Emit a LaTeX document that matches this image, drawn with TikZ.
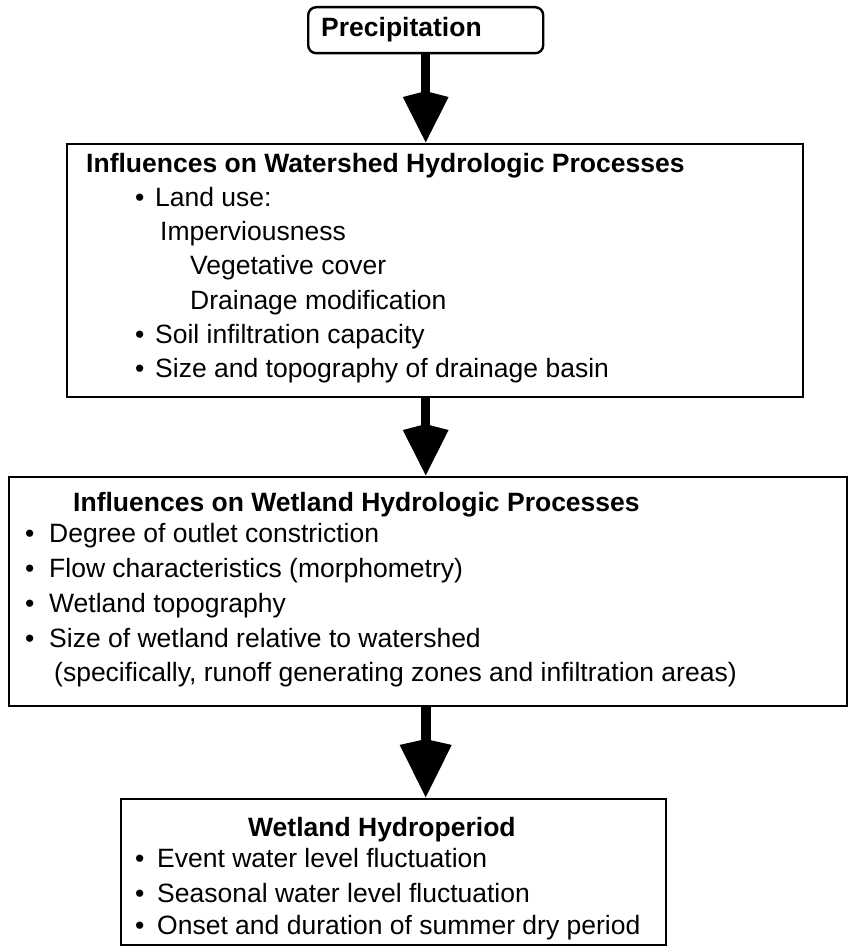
\documentclass[tikz,border=0pt]{standalone}
\usepackage{fontspec}
\setmainfont{Liberation Sans}
\usetikzlibrary{arrows.meta}
\begin{document}
\begin{tikzpicture}[x=1pt,y=-1pt,
  box/.style={draw, line width=2.4pt, inner sep=0pt, anchor=north west},
  txt/.style={anchor=base west, inner sep=0pt, font=\fontsize{26.5}{30}\selectfont},
  ttl/.style={anchor=base west, inner sep=0pt, font=\fontsize{26.5}{30}\selectfont\bfseries},
  flow/.style={line width=9pt, -{Stealth[length=45pt,width=42pt,inset=-7pt]}},
  bigflow/.style={line width=10pt, -{Stealth[length=52pt,width=48pt,inset=-7pt]}}]
\useasboundingbox (0,0) rectangle (847,947);
% boxes
\node[box, minimum width=235pt, minimum height=46pt, rounded corners=8pt] (pre) at (307,6) {};
\node[box, minimum width=736pt, minimum height=253pt] (b2) at (66,143) {};
\node[box, minimum width=838pt, minimum height=229pt] (b3) at (8,476) {};
\node[box, minimum width=545pt, minimum height=146pt] (b4) at (120,798) {};
% connectors
\draw[flow] (pre.south) -- (pre.south |- b2.north);
\draw[flow] (pre.south |- b2.south) -- (pre.south |- b3.north);
\draw[bigflow] (pre.south |- b3.south) -- (pre.south |- b4.north);
% texts
\node[ttl] (tpre) at (321,37) {Precipitation};
\node[ttl] (t2) at (86,172) {Influences on Watershed Hydrologic Processes};
\node[txt] (b2a) at (135,206) {•};
\node[txt] (l2a) at (155,206) {Land use:};
\node[txt] (l2b) at (160,240) {Imperviousness};
\node[txt] (l2c) at (190,274) {Vegetative cover};
\node[txt] (l2d) at (190,309) {Drainage modification};
\node[txt] (b2e) at (135,343) {•};
\node[txt] (l2e) at (155,343) {Soil infiltration capacity};
\node[txt] (b2f) at (135,377) {•};
\node[txt] (l2f) at (155,377) {Size and topography of drainage basin};
\node[ttl] (t3) at (73,511) {Influences on Wetland Hydrologic Processes};
\node[txt] (b3a) at (25,542) {•};
\node[txt] (l3a) at (49,542) {Degree of outlet constriction};
\node[txt] (b3b) at (25,577) {•};
\node[txt] (l3b) at (49,577) {Flow characteristics (morphometry)};
\node[txt] (b3c) at (25,612) {•};
\node[txt] (l3c) at (49,612) {Wetland topography};
\node[txt] (b3d) at (25,647) {•};
\node[txt] (l3d) at (49,647) {Size of wetland relative to watershed};
\node[txt] (l3e) at (54,681) {(specifically, runoff generating zones and infiltration areas)};
\node[ttl] (t4) at (248,836) {Wetland Hydroperiod};
\node[txt] (b4a) at (135,867) {•};
\node[txt] (l4a) at (157,867) {Event water level fluctuation};
\node[txt] (b4b) at (135,902) {•};
\node[txt] (l4b) at (157,902) {Seasonal water level fluctuation};
\node[txt] (b4c) at (135,934) {•};
\node[txt] (l4c) at (157,934) {Onset and duration of summer dry period};
\end{tikzpicture}
\end{document}
